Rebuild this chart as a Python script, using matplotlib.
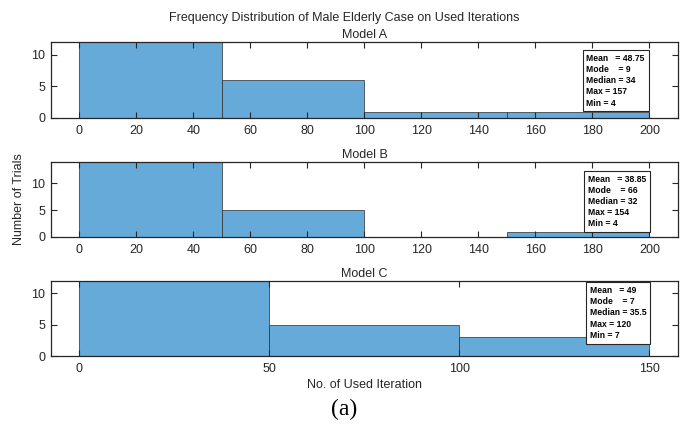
import numpy as np
import matplotlib
matplotlib.use("Agg")
import matplotlib.pyplot as plt

plt.rcParams["font.family"] = ["Liberation Sans", "DejaVu Sans"]

# histogram data per model (bin edges and counts)
models = ["Model A", "Model B", "Model C"]
edges_a = [0, 50, 100, 150, 200]
counts_a = [12, 6, 1, 1]
edges_b = [0, 50, 100, 150, 200]
counts_b = [14, 5, 0, 1]
edges_c = [0, 50, 100, 150]
counts_c = [12, 5, 3]

xticks_a = list(range(0, 201, 20))
xticks_b = list(range(0, 201, 20))
xticks_c = [0, 50, 100, 150]

stats_a = ["Mean   = 48.75", "Mode    = 9", "Median = 34", "Max = 157", "Min = 4"]
stats_b = ["Mean   = 38.85", "Mode    = 66", "Median = 32", "Max = 154", "Min = 4"]
stats_c = ["Mean   = 49", "Mode    = 7", "Median = 35.5", "Max = 120", "Min = 7"]

bar_color = "#66aad9"
ink = "#262626"

fig = plt.figure(figsize=(6.89, 4.33), dpi=100)

panels = [
    (models[0], edges_a, counts_a, xticks_a, stats_a, [0.074, 0.7275, 0.910, 0.1755], (0.854, 0.84)),
    (models[1], edges_b, counts_b, xticks_b, stats_b, [0.074, 0.4527, 0.910, 0.1733], (0.857, 0.825)),
    (models[2], edges_c, counts_c, xticks_c, stats_c, [0.074, 0.1778, 0.910, 0.1733], (0.859, 0.93)),
]

for name, edges, counts, xticks, stats, rect, txt_pos in panels:
    ax = fig.add_axes(rect)
    edges = np.asarray(edges)
    widths = np.diff(edges)
    ax.bar(edges[:-1], counts, width=widths, align="edge",
           color=bar_color, edgecolor="#2b2b2b", linewidth=0.5)
    span = edges[-1] - edges[0]
    ax.set_xlim(edges[0] - 0.05 * span, edges[-1] + 0.05 * span)
    ax.set_ylim(0, max(counts))
    ax.set_xticks(xticks)
    ax.set_yticks([0, 5, 10])
    ax.tick_params(direction="in", top=True, right=True, length=4.5,
                   width=0.8, labelsize=9, colors=ink)
    ax.tick_params(axis="x", pad=5)
    ax.tick_params(axis="y", pad=4)
    for s in ax.spines.values():
        s.set_linewidth(0.9)
        s.set_color(ink)
    ax.set_title(name, fontsize=9, pad=3, color=ink)
    ax.text(txt_pos[0], txt_pos[1], "\n".join(stats), transform=ax.transAxes,
            ha="left", va="top", fontsize=6.2, fontweight="bold",
            linespacing=1.3,
            bbox=dict(boxstyle="square,pad=0.45", facecolor="white",
                      edgecolor=ink, linewidth=0.8))
    if name == "Model C":
        ax.set_xlabel("No. of Used Iteration", fontsize=9, color=ink, labelpad=3)

fig.text(0.5, 0.958, "Frequency Distribution of Male Elderly Case on Used Iterations",
         ha="center", va="center", fontsize=9, color=ink)
fig.text(0.027, 0.54, "Number of Trials", rotation=90, ha="center", va="center",
         fontsize=9, color=ink)
fig.text(0.5, 0.055, "(a)", ha="center", va="center", fontsize=17,
         family=["Liberation Serif", "DejaVu Serif"])

fig.savefig("out.png", dpi=100)
